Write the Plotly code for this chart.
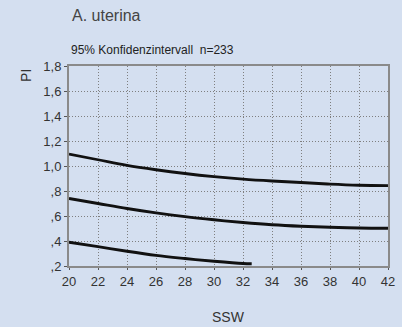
import plotly.graph_objects as go

weeks_upper = [20, 22, 24, 26, 28, 30, 32, 34, 36, 38, 40, 42]
pi_upper = [1.095, 1.05, 1.005, 0.97, 0.94, 0.915, 0.895, 0.88, 0.868, 0.855, 0.846, 0.843]
weeks_mid = [20, 22, 24, 26, 28, 30, 32, 34, 36, 38, 40, 42]
pi_mid = [0.74, 0.70, 0.66, 0.625, 0.595, 0.57, 0.548, 0.53, 0.518, 0.51, 0.504, 0.502]
weeks_lower = [20, 22, 24, 26, 28, 30, 32, 32.6]
pi_lower = [0.39, 0.355, 0.318, 0.285, 0.26, 0.238, 0.22, 0.218]

x_ticks = [20, 22, 24, 26, 28, 30, 32, 34, 36, 38, 40, 42]
y_ticks = [0.2, 0.4, 0.6, 0.8, 1.0, 1.2, 1.4, 1.6, 1.8]
y_ticklabels = [",2", ",4", ",6", ",8", "1,0", "1,2", "1,4", "1,6", "1,8"]

bg = "#d4dff0"
fig = go.Figure()
for xs, ys in [(weeks_upper, pi_upper), (weeks_mid, pi_mid), (weeks_lower, pi_lower)]:
    fig.add_trace(go.Scatter(x=xs, y=ys, mode="lines", line=dict(color="#111111", width=2.8, shape="spline"),
                             showlegend=False, hoverinfo="skip"))

fig.update_layout(
    width=402, height=327,
    paper_bgcolor=bg, plot_bgcolor=bg,
    margin=dict(l=69, r=7, t=66, b=61),
    font=dict(family="Liberation Sans, Arial, sans-serif", color="#333333", size=13),
)
fig.add_annotation(text="A. uterina", xref="paper", yref="paper", x=(70 - 69) / 326, y=1 + (66 - 15) / 200,
                   xanchor="left", yanchor="middle", showarrow=False, font=dict(size=16, color="#444444"))
fig.add_annotation(text="95% Konfidenzintervall  n=233", xref="paper", yref="paper",
                   x=(69 - 69) / 326, y=1 + (66 - 50) / 200, xanchor="left", yanchor="middle",
                   showarrow=False, font=dict(size=12, color="#222222"))
fig.add_annotation(text="PI", xref="paper", yref="paper", x=-(69 - 25) / 326, y=1 - (75 - 66) / 200,
                   xanchor="center", yanchor="middle", textangle=-90, showarrow=False,
                   font=dict(size=14, color="#333333"))
fig.add_annotation(text="SSW", xref="paper", yref="paper", x=(232 - 69) / 326, y=-(317 - 266) / 200,
                   xanchor="center", yanchor="middle", showarrow=False, font=dict(size=14, color="#333333"))

grid_dash = "1px,2px"
fig.update_xaxes(range=[20, 42], tickvals=x_ticks, ticktext=[str(v) for v in x_ticks],
                 showgrid=True, gridcolor="#7f7f7f", griddash=grid_dash, gridwidth=1,
                 showline=True, linecolor="#8a8a8a", linewidth=2, mirror=True,
                 ticks="outside", ticklen=2, tickcolor="#555555",
                 tickfont=dict(size=13, color="#333333"), zeroline=False)
fig.update_yaxes(range=[0.2, 1.8], tickvals=y_ticks, ticktext=y_ticklabels,
                 showgrid=True, gridcolor="#7f7f7f", griddash=grid_dash, gridwidth=1,
                 showline=True, linecolor="#8a8a8a", linewidth=2, mirror=True,
                 ticks="outside", ticklen=3, tickcolor="#555555",
                 tickfont=dict(size=13, color="#333333"), zeroline=False)

fig.write_html("out.html", config={"displayModeBar": False},
               post_script="document.body.style.margin='0';document.body.style.background='" + bg + "';")
